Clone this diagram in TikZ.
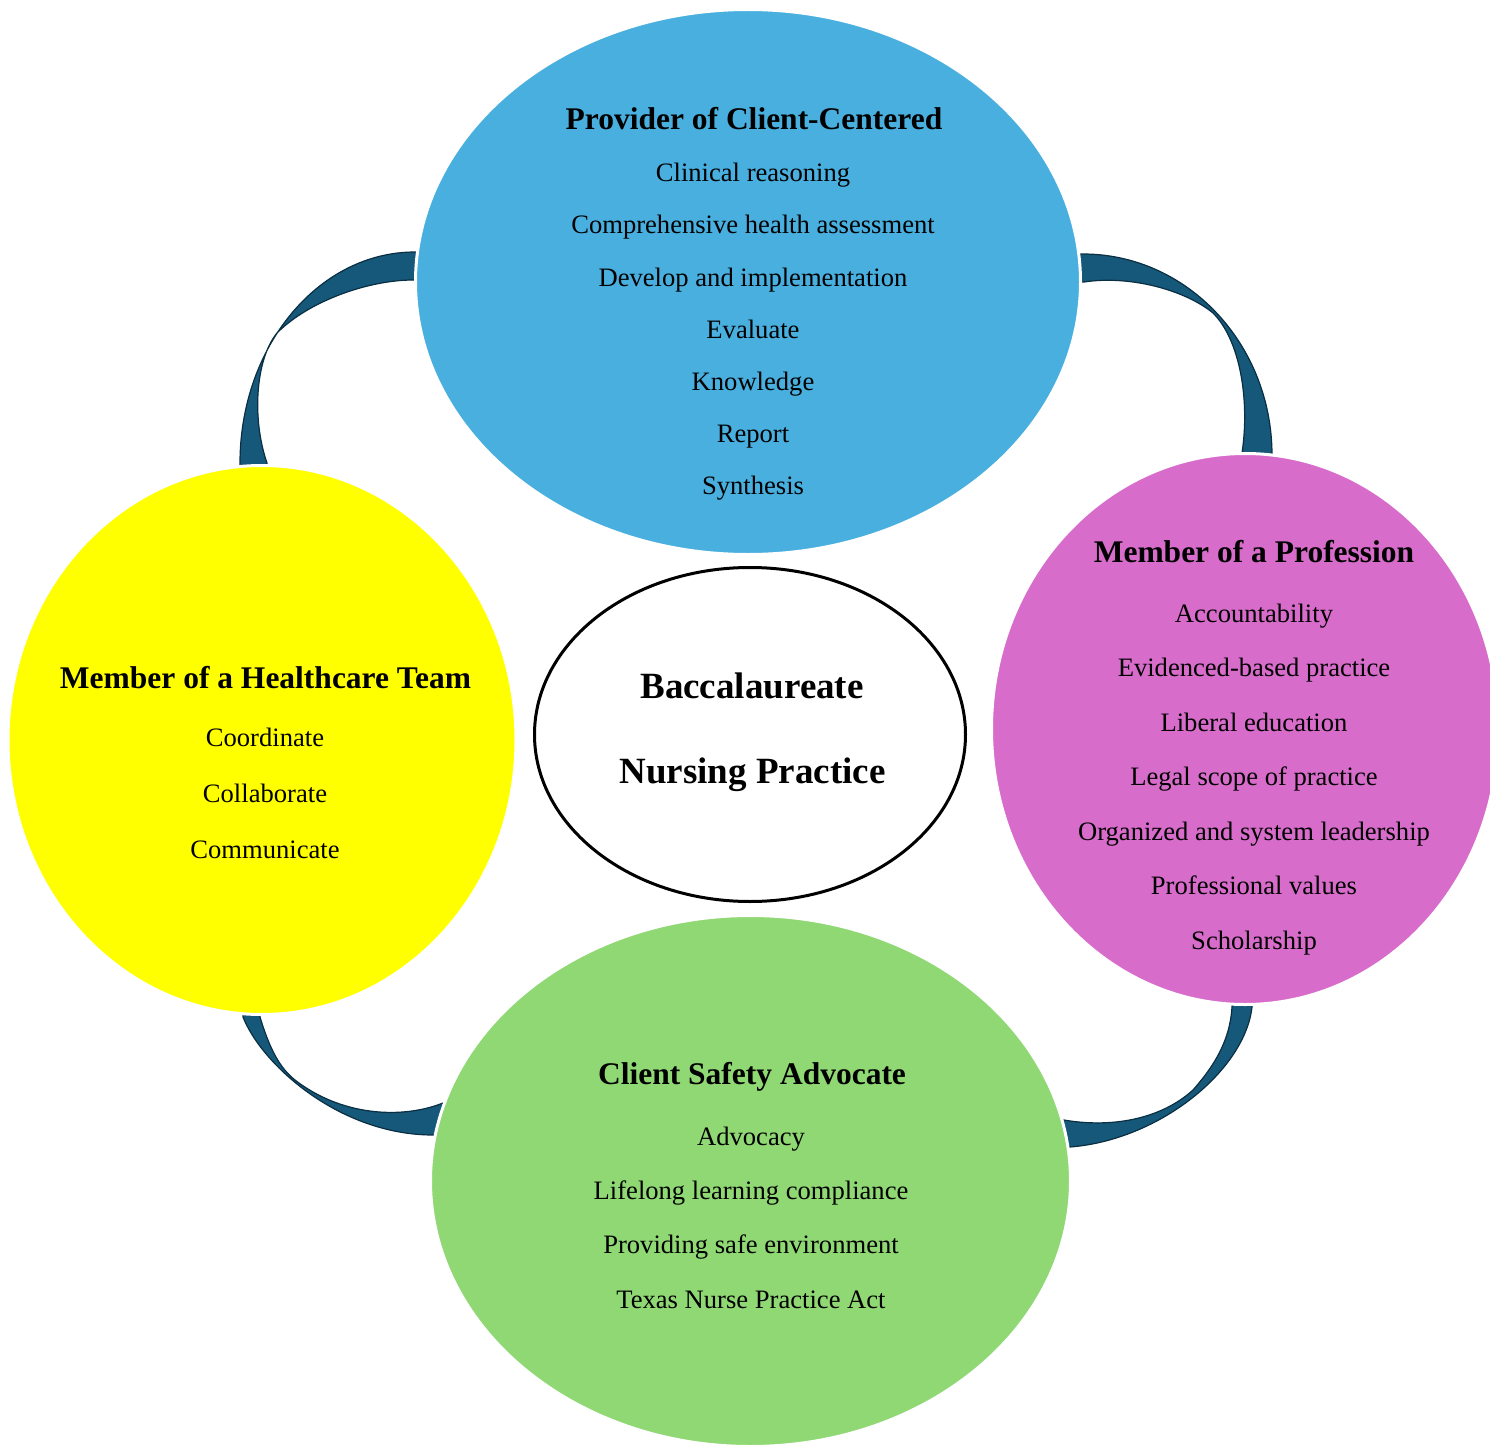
\documentclass[tikz,border=0pt]{standalone}
\usepackage{fontspec}
\setmainfont{Liberation Serif}
\usetikzlibrary{shapes.geometric}
\definecolor{cblue}{RGB}{72,175,223}
\definecolor{cyellow}{RGB}{255,255,0}
\definecolor{cpink}{RGB}{215,108,203}
\definecolor{cgreen}{RGB}{143,216,116}
\definecolor{cband}{RGB}{22,88,122}
\definecolor{cbandedge}{RGB}{10,46,66}
\begin{document}
\begin{tikzpicture}[x=0.5pt,y=-0.5pt,
  bubble/.style={ellipse, draw=white, line width=1.5pt, inner sep=0pt},
  band/.style={fill=cband, draw=cbandedge, line width=0.6pt, line join=round},
  item/.style={anchor=base, font=\fontsize{13.3}{16}\selectfont, inner sep=0pt},
  head/.style={anchor=base, font=\fontsize{15.75}{19}\selectfont\bfseries, inner sep=0pt},
  core/.style={anchor=base, font=\fontsize{18.5}{22}\selectfont\bfseries, inner sep=0pt}]
\useasboundingbox (0,0) rectangle (1490,1445);
\clip (0,0) rectangle (1490,1445);

% connecting bands
\path[band] (440,252) -- (415,252) .. controls (318,252) and (240,347) .. (240,463) -- (240,492) -- (270,492) -- (267,463) .. controls (252,420) and (255,360) .. (277,333) .. controls (310,300) and (370,280) .. (413,280) -- (440,280) -- cycle;
\path[band] (1065,254) -- (1083,254) .. controls (1187,254) and (1272,344) .. (1272,455) -- (1272,478) -- (1242,478) -- (1242,453) .. controls (1250,400) and (1240,340) .. (1213,313) .. controls (1185,290) and (1130,275) .. (1084,282) -- (1065,282) -- cycle;
\path[band] (243,995) -- (243,1017) .. controls (262,1065) and (340,1135) .. (433,1135) -- (462,1135) -- (462,1098) -- (443,1103) .. controls (400,1120) and (340,1115) .. (295,1080) .. controls (280,1068) and (270,1050) .. (260,1017) -- (260,995) -- cycle;
\path[band] (1252,985) -- (1252,1007) .. controls (1245,1070) and (1160,1140) .. (1070,1147) -- (1045,1147) -- (1045,1120) -- (1064,1120) .. controls (1110,1128) and (1160,1120) .. (1193,1090) .. controls (1215,1065) and (1230,1040) .. (1232,1007) -- (1232,985) -- cycle;

% bubbles
\node[bubble, fill=cblue, minimum width=332.5pt, minimum height=272.5pt] (prov) at (748,282) {};
\node[bubble, fill=cyellow, minimum width=254pt, minimum height=274.5pt] (team) at (262,740) {};
\node[bubble, fill=cpink, minimum width=253.5pt, minimum height=275.5pt] (prof) at (1245,729) {};
\node[bubble, fill=cgreen, minimum width=320pt, minimum height=265.5pt] (safe) at (750.5,1181) {};
\node[ellipse, draw=black, fill=white, line width=1.5pt, inner sep=0pt, minimum width=215.5pt, minimum height=167pt] (core) at (750,734.5) {};

% center text
\node[core] (c1) at (752,698) {Baccalaureate};
\node[core] (c2) at (752.5,783) {Nursing Practice};

% provider
\node[head] (p0) at (754,130) {Provider of Client-Centered};
\node[item] (p1) at (753,182) {Clinical reasoning};
\node[item] (p2) at (753,234) {Comprehensive health assessment};
\node[item] (p3) at (753,286) {Develop and implementation};
\node[item] (p4) at (753,338) {Evaluate};
\node[item] (p5) at (753,390) {Knowledge};
\node[item] (p6) at (753,442) {Report};
\node[item] (p7) at (753,494) {Synthesis};

% healthcare team
\node[head] (t0) at (265.5,688) {Member of a Healthcare Team};
\node[item] (t1) at (265,746) {Coordinate};
\node[item] (t2) at (265,802) {Collaborate};
\node[item] (t3) at (265,858) {Communicate};

% profession
\node[head] (m0) at (1254,562) {Member of a Profession};
\node[item] (m1) at (1254,622) {Accountability};
\node[item] (m2) at (1254,676.5) {Evidenced-based practice};
\node[item] (m3) at (1254,731) {Liberal education};
\node[item] (m4) at (1254,785.5) {Legal scope of practice};
\node[item] (m5) at (1254,840) {Organized and system leadership};
\node[item] (m6) at (1254,894.5) {Professional values};
\node[item] (m7) at (1254,949) {Scholarship};

% safety
\node[head] (s0) at (752,1084) {Client Safety Advocate};
\node[item] (s1) at (751,1145) {Advocacy};
\node[item] (s2) at (751,1199) {Lifelong learning compliance};
\node[item] (s3) at (751,1253.5) {Providing safe environment};
\node[item] (s4) at (751,1308) {Texas Nurse Practice Act};
\end{tikzpicture}
\end{document}
